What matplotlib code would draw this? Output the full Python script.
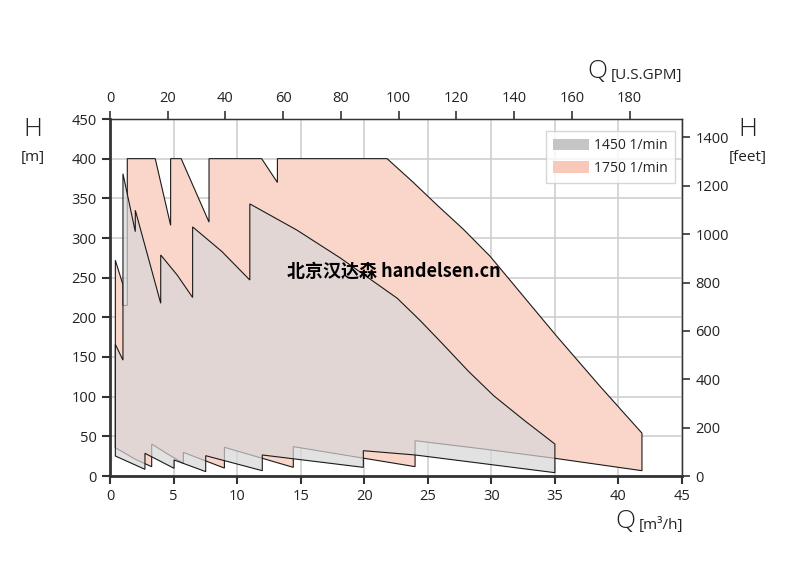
import matplotlib
matplotlib.use("Agg")
import matplotlib.pyplot as plt
from matplotlib.patches import Polygon, Patch

plt.rcParams['font.family'] = ['Open Sans', 'DejaVu Sans']

# outline of the 1750 1/min range (Q m3/h, H m)
q_1750 = [0.42, 0.42, 1.02, 1.02, 1.36, 1.36, 3.56, 4.77, 4.77, 5.6, 7.79, 7.79,
          11.93, 13.17, 13.17, 21.8, 23.8, 25.7, 27.8, 29.9, 32.5, 35.1, 38.5, 41.85,
          41.85, 35.0, 29.5, 24.0, 24.0, 19.93, 14.42, 14.42, 11.98, 9.0,
          9.0, 7.53, 5.77, 5.77, 4.5, 3.28, 3.28, 2.0]
h_1750 = [35.7, 272, 241, 215, 215, 400, 400, 316, 400, 400, 320, 400,
          400, 370, 400, 400, 371, 342, 311, 277, 227, 177, 114, 54,
          6.7, 22.3, 33.8, 44.5, 11.8, 22.5, 37, 10.9, 22.3, 36.2,
          10, 19, 29.8, 16, 28, 40.3, 11.7, 21]

# outline of the 1450 1/min range
q_1450 = [0.42, 0.42, 1.02, 1.02, 1.99, 1.99, 3.99, 3.99, 5.3, 6.5, 6.5, 8.8,
          11.0, 11.0, 14.7, 18.1, 22.6, 24.4, 26.2, 28.2, 30.2, 32.6, 35.0,
          35.0, 24.0, 19.93, 19.93, 11.98, 11.98, 7.53, 7.53, 5.04, 5.04,
          2.75, 2.75]
h_1450 = [25.2, 166, 146, 381, 308, 335, 217.7, 278.6, 253, 225, 314, 283,
          247, 343, 310, 275, 224, 196, 166, 132, 101, 70, 40.3,
          4.2, 26.5, 31.9, 10.9, 26.5, 6.7, 25.6, 5.5, 20.2, 9.7,
          28.6, 8.4]

x_ticks = [0, 5, 10, 15, 20, 25, 30, 35, 40, 45]
y_ticks = [0, 50, 100, 150, 200, 250, 300, 350, 400, 450]
gpm_ticks = [0, 20, 40, 60, 80, 100, 120, 140, 160, 180]
feet_ticks = [0, 200, 400, 600, 800, 1000, 1200, 1400]
legend_labels = ['1450 1/min', '1750 1/min']

pink = '#f9d6c9'
grey = '#d7d7d8'
txt = '#222222'
edge = '#1a1a1a'

fig = plt.figure(figsize=(7.86, 5.76), dpi=100)
ax = fig.add_axes([110/786, 100/576, 572/786, 357/576])

pts_1750 = list(zip(q_1750, h_1750))
pts_1450 = list(zip(q_1450, h_1450))
ax.add_patch(Polygon(pts_1750, closed=True, facecolor=pink, edgecolor=edge,
                     linewidth=0.8, zorder=2))
# grey range sits on top, half see-through, so the pink outline under it fades
ax.add_patch(Polygon(pts_1450, closed=True, facecolor=grey, alpha=0.7,
                     edgecolor='none', zorder=3))
ax.add_patch(Polygon(pts_1450, closed=True, fill=False, edgecolor=edge,
                     linewidth=0.8, zorder=4))

ax.set_xlim(0, 45)
ax.set_ylim(0, 450)
ax.set_xticks(x_ticks)
ax.set_yticks(y_ticks)
ax.grid(True, color='#cfcfcf', linewidth=1.2, zorder=0)
ax.set_axisbelow(True)
for s in ax.spines.values():
    s.set_color('#333333')
    s.set_linewidth(1.0)
ax.spines['left'].set_linewidth(2)
ax.spines['bottom'].set_linewidth(2)
ax.tick_params(direction='out', length=6, width=1.5, colors='#333333',
               labelsize=10.5, labelcolor=txt)

top = ax.secondary_xaxis('top', functions=(lambda q: q * 4.4029, lambda g: g / 4.4029))
top.set_xticks(gpm_ticks)
top.tick_params(direction='out', length=6, width=1.2, colors='#333333',
                labelsize=10.5, labelcolor=txt)
right = ax.secondary_yaxis('right', functions=(lambda h: h * 3.2808, lambda f: f / 3.2808))
right.set_yticks(feet_ticks)
right.tick_params(direction='out', length=6, width=1.2, colors='#333333',
                  labelsize=10.5, labelcolor=txt)

handles = [Patch(facecolor='#c4c5c7', edgecolor='none'),
           Patch(facecolor='#f8c9b9', edgecolor='none')]
leg = ax.legend(handles, legend_labels, loc='upper right', bbox_to_anchor=(0.988, 0.966),
                fontsize=10, frameon=True, fancybox=False, edgecolor='#cccccc',
                handlelength=2.6, handleheight=0.9, borderpad=0.5, labelspacing=0.55,
                handletextpad=0.4, borderaxespad=0)
leg.get_frame().set_linewidth(1)
for t in leg.get_texts():
    t.set_color(txt)

ax.text(0.4965, 0.574, '北京汉达森 handelsen.cn', transform=ax.transAxes,
        ha='center', va='center', fontsize=13, fontweight='bold',
        family=['Noto Sans CJK SC', 'DejaVu Sans'], color='black', zorder=10)

fig.text(33/786, 1 - 130/576, 'H', fontsize=19, ha='center', va='center', color=txt, fontweight='light')
fig.text(33/786, 1 - 158/576, '[m]', fontsize=11, ha='center', va='center', color=txt)
fig.text(748/786, 1 - 130/576, 'H', fontsize=19, ha='center', va='center', color=txt, fontweight='light')
fig.text(748/786, 1 - 158/576, '[feet]', fontsize=11, ha='center', va='center', color=txt)
fig.text(597/786, 1 - 72/576, 'Q', fontsize=19, ha='center', va='center', color=txt, fontweight='light')
fig.text(611/786, 1 - 75/576, '[U.S.GPM]', fontsize=11, ha='left', va='center', color=txt)
fig.text(625/786, 1 - 521/576, 'Q', fontsize=19, ha='center', va='center', color=txt, fontweight='light')
fig.text(639/786, 1 - 525/576, '[m³/h]', fontsize=11, ha='left', va='center', color=txt)

fig.savefig('out.png', dpi=100)
